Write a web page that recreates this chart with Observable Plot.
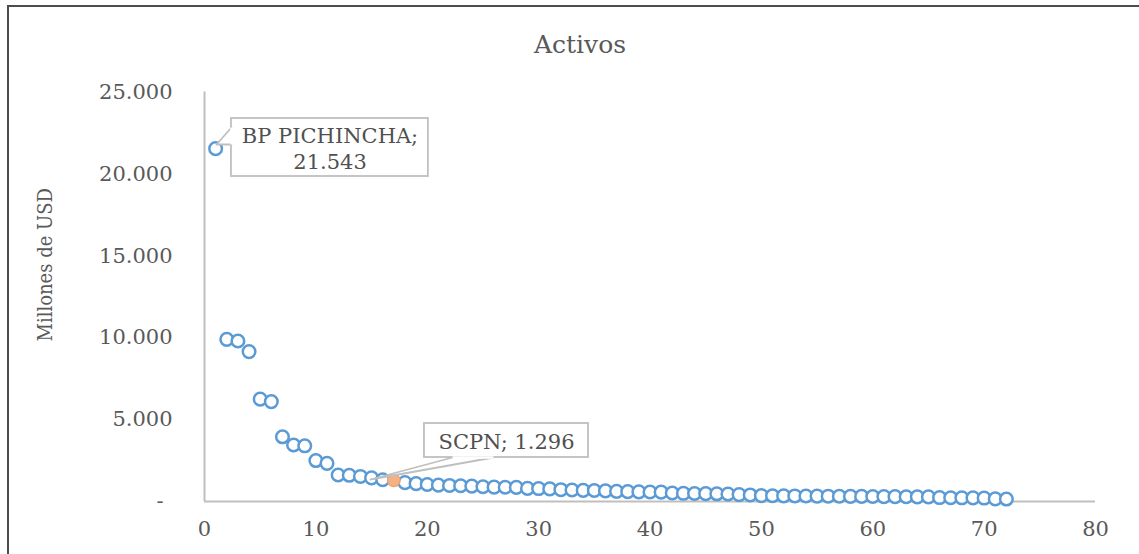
<!DOCTYPE html>
<html><head><meta charset="utf-8">
<script src="https://cdn.jsdelivr.net/npm/d3@7"></script>
<script src="https://cdn.jsdelivr.net/npm/@observablehq/plot@0.6"></script>
<style>
body{margin:0;background:#fff;}
#wrap{position:relative;width:1139px;height:554px;overflow:hidden;background:#fff;}
#frame{position:absolute;left:7px;top:5px;width:1300px;height:700px;border-left:2px solid #4d4d4d;border-top:2px solid #4d4d4d;}
#chart{position:absolute;left:0;top:0;}
</style></head><body><div id="wrap"><div id="frame"></div><div id="chart"></div></div>
<script>
// ---- data ----
const title = "Activos";
const yLabel = "Millones de USD";
const ranks = [1,2,3,4,5,6,7,8,9,10,11,12,13,14,15,16,17,18,19,20,21,22,23,24,25,26,27,28,29,30,31,32,33,34,35,36,37,38,39,40,41,42,43,44,45,46,47,48,49,50,51,52,53,54,55,56,57,58,59,60,61,62,63,64,65,66,67,68,69,70,71,72];
const activos = [21543,9900,9800,9150,6250,6100,3950,3450,3400,2500,2330,1620,1600,1530,1440,1330,1296,1150,1090,1040,1000,980,960,940,900,880,870,860,800,790,770,720,700,680,670,650,620,600,590,580,570,520,500,490,480,470,460,420,400,360,350,345,340,335,330,325,320,315,310,305,300,295,290,285,280,240,230,225,220,210,160,150];
const highlightRank = 17;
const xTicks = [0,10,20,30,40,50,60,70,80];
const yTicks = [0,5000,10000,15000,20000,25000];
// callouts: label, box in data units, tail in data units
const calloutBP = {text:"BP PICHINCHA;\n21.543", x1:2.42, x2:20.1, y1:19841, y2:23382, tx:11.27, ty:21581,
  tail:[[2.42,22833],[1.08,21795],[2.42,21795]]};
const calloutSC = {text:"SCPN; 1.296", x1:19.75, x2:34.48, y1:2686, y2:4762, tx:27.12, ty:3724,
  tail:[[22.27,2686],[14.9,1343],[25.95,2686]]};

const data = ranks.map((r,i)=>({rank:r, value:activos[i]}));
const normal = data.filter(d=>d.rank!==highlightRank);
const hl = data.filter(d=>d.rank===highlightRank);

const fmt = v => d3.format(",")(v).replace(/,/g,".");
const grey = "#bfbfbf";
const txt = "#595959";
const font = "DejaVu Serif";

function calloutMarks(c){
  const [a,tip,b] = c.tail;
  return [
    Plot.rect([c],{x1:"x1",x2:"x2",y1:"y1",y2:"y2",fill:"white",stroke:grey,strokeWidth:1.8}),
    Plot.line([a,tip,b],{x:d=>d[0],y:d=>d[1],fill:"white",stroke:grey,strokeWidth:1.8}),
    Plot.link([c],{x1:()=>a[0],y1:()=>a[1],x2:()=>b[0],y2:()=>b[1],stroke:"white",strokeWidth:2.5}),
    Plot.text([c],{x:"tx",y:"ty",text:"text",fontSize:21,fill:"#505050",fontFamily:font,lineHeight:1.2,lineAnchor:"middle"})
  ];
}

const plot = Plot.plot({
  width:1139, height:554,
  marginLeft:204, marginRight:44, marginTop:91.5, marginBottom:53,
  style:{fontFamily:font, fontSize:"21px", color:txt, background:"transparent", overflow:"visible"},
  x:{domain:[0,80]},
  y:{domain:[0,25000]},
  marks:[
    Plot.ruleY([0],{stroke:grey,strokeWidth:2}),
    Plot.ruleX([0],{stroke:grey,strokeWidth:2}),
    Plot.axisY({ticks:yTicks.slice(1), tickFormat:fmt, tickSize:0, tickPadding:32, label:null, fontSize:21}),
    Plot.axisY({ticks:[0], tickFormat:()=>"-", tickSize:0, tickPadding:41, label:null, fontSize:21}),
    Plot.axisX({ticks:xTicks, tickSize:0, tickPadding:20, label:null, fontSize:21}),
    Plot.dot(normal,{x:"rank",y:"value",r:6.3,stroke:"#5b9bd5",strokeWidth:2.5,fill:"white"}),
    Plot.dot(hl,{x:"rank",y:"value",r:6.3,stroke:"#f2a06c",strokeWidth:1.2,fill:"#f4b183"}),
    ...calloutMarks(calloutBP),
    ...calloutMarks(calloutSC),
    Plot.text([title],{frameAnchor:"top",dx:-70,dy:-47,fontSize:25,fill:txt,fontFamily:font,lineAnchor:"middle",textAnchor:"middle"}),
    Plot.text([yLabel],{frameAnchor:"left",rotate:-90,dx:-159,dy:-32,fontSize:20,fill:txt,fontFamily:"DejaVu Serif Condensed, DejaVu Serif",textAnchor:"middle",lineAnchor:"middle"})
  ]
});
document.getElementById("chart").appendChild(plot);
d3.select(plot).selectAll("text").filter(function(){return this.textContent===yLabel;}).style("font-stretch","condensed");
</script>
</body></html>
